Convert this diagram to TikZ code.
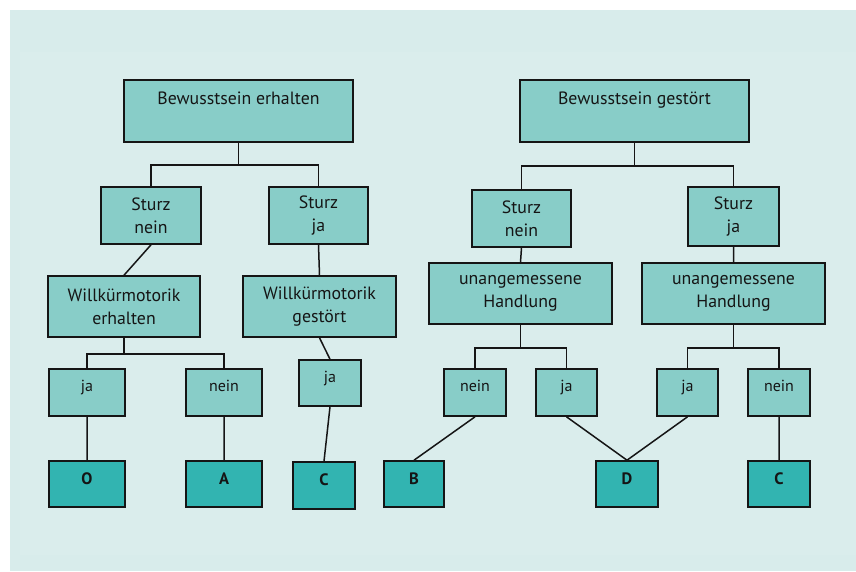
\documentclass[tikz,border=0pt]{standalone}
\usepackage{fontspec}
\setmainfont{PT Sans}
\definecolor{bgpanel}{HTML}{D8ECEB}
\definecolor{bginner}{HTML}{DAEDEC}
\definecolor{boxlight}{HTML}{88CDC8}
\definecolor{boxdark}{HTML}{32B4B1}
\definecolor{ink}{HTML}{151515}
\begin{document}
\begin{tikzpicture}[x=1pt,y=-1pt,
    box/.style={draw=ink,line width=1.6pt,fill=boxlight,text=ink,inner sep=0pt,
        align=center,font=\fontsize{17.8}{23}\selectfont},
    topbox/.style={box,minimum width=229pt,minimum height=62pt,text height=12pt,text depth=25pt},
    answer/.style={box,minimum height=47pt,text height=12pt,text depth=14pt,
        font=\fontsize{16}{20}\selectfont},
    result/.style={box,fill=boxdark,minimum height=46pt,text height=12pt,text depth=12pt,
        font=\fontsize{16.5}{20}\selectfont\bfseries},
    link/.style={draw=ink,line width=1.5pt}]
    \useasboundingbox (0,0) rectangle (856,571);
    \fill[bgpanel] (10,10) rectangle (856,571);
    \fill[bginner] (20,52) rectangle (856,555);
    % linke Seite
    \node[topbox] (be) at (238.5,111) {Bewusstsein erhalten};
    \node[box,minimum width=100pt,minimum height=57pt] (sn1) at (151,215.5) {Sturz\\nein};
    \node[box,minimum width=99pt,minimum height=57pt] (sj1) at (318.5,215.5) {Sturz\\ja};
    \node[box,minimum width=152pt,minimum height=61pt] (we) at (124,306.5) {Willkürmotorik\\erhalten};
    \node[box,minimum width=153pt,minimum height=61pt] (wg) at (319.5,306.5) {Willkürmotorik\\gestört};
    \node[answer,minimum width=76pt] (ja1) at (87,392.5) {ja};
    \node[answer,minimum width=76pt] (nein1) at (224,392.5) {nein};
    \node[answer,minimum width=62pt,minimum height=46pt] (ja2) at (330,383) {ja};
    \node[result,minimum width=76pt] (resO) at (87,484) {O};
    \node[result,minimum width=76pt] (resA) at (224,484) {A};
    \node[result,minimum width=62pt,minimum height=47pt] (resC1) at (324,485.5) {C};
    % rechte Seite
    \node[topbox] (bg) at (634.5,111) {Bewusstsein gestört};
    \node[box,minimum width=99pt,minimum height=57pt] (sn2) at (521.5,218.5) {Sturz\\nein};
    \node[box,minimum width=91pt,minimum height=59pt] (sj2) at (733.5,216.5) {Sturz\\ja};
    \node[box,minimum width=183pt,minimum height=61pt] (hl) at (520.5,293.5) {unangemessene\\Handlung};
    \node[box,minimum width=183pt,minimum height=61pt] (hr) at (733.5,293.5) {unangemessene\\Handlung};
    \node[answer,minimum width=62pt] (nein2) at (475,392.5) {nein};
    \node[answer,minimum width=61pt] (ja3) at (566.5,392.5) {ja};
    \node[answer,minimum width=61pt] (ja4) at (687.5,392.5) {ja};
    \node[answer,minimum width=62pt] (nein3) at (779,392.5) {nein};
    \node[result,minimum width=60pt] (resB) at (414,484) {B};
    \node[result,minimum width=62pt] (resD) at (627,484) {D};
    \node[result,minimum width=62pt] (resC2) at (779,484) {C};
    % Verbindungen
    \path[link] (be.south) -- ++(0,22) -| (sn1.north)
        (be.south) ++(0,22) -| (sj1.north);
    \path[link] (sn1.south) -- (we.north) (sj1.south) -- (wg.north);
    \path[link] (we.south) -- ++(0,16) -| (ja1.north)
        (we.south) ++(0,16) -| (nein1.north);
    \path[link] (wg.south) -- (ja2.north);
    \path[link] (ja1.south) -- (resO.north) (nein1.south) -- (resA.north)
        (ja2.south) -- (resC1.north);
    \path[link] (bg.south) -- ++(0,23) -| (sn2.north)
        (bg.south) ++(0,23) -| (sj2.north);
    \path[link] (sn2.south) -- (hl.north) (sj2.south) -- (hr.north);
    \path[link] (hl.south) -- ++(0,23) -| (nein2.north)
        (hl.south) ++(0,23) -| (ja3.north);
    \path[link] (hr.south) -- ++(0,23) -| (ja4.north)
        (hr.south) ++(0,23) -| (nein3.north);
    \path[link] (nein2.south) -- (resB.north) (ja3.south) -- (resD.north)
        (ja4.south) -- (resD.north) (nein3.south) -- (resC2.north);
\end{tikzpicture}
\end{document}
